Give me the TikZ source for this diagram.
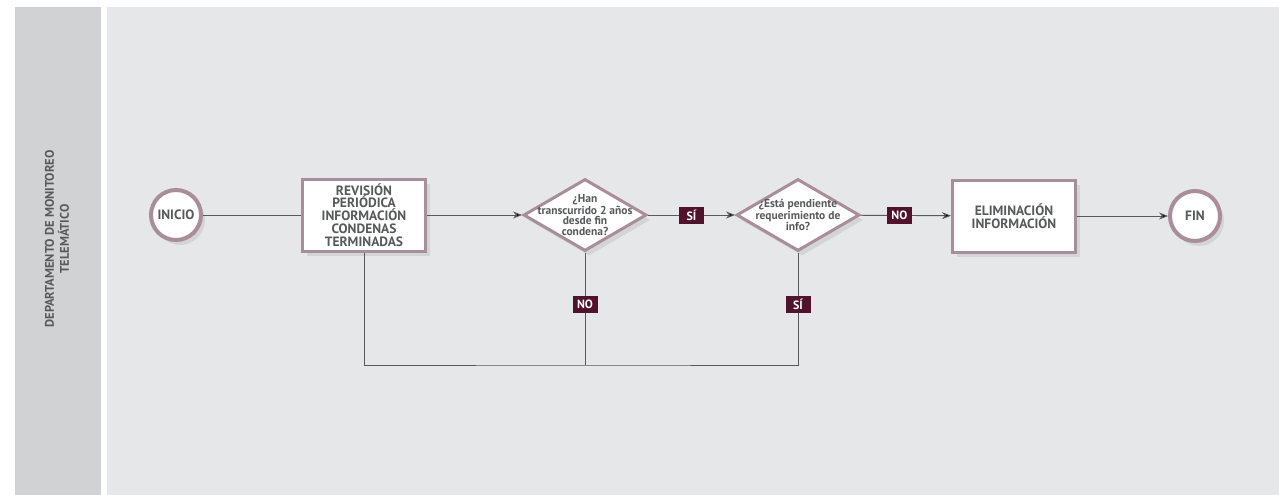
\documentclass[tikz,border=0pt]{standalone}
\usepackage{fontspec}
\setmainfont{PT Sans}
\usetikzlibrary{shapes.geometric,shadows,arrows.meta,positioning}
\definecolor{lanegray}{HTML}{D1D2D4}
\definecolor{poolgray}{HTML}{E6E7E8}
\definecolor{mauve}{HTML}{A98D99}
\definecolor{tagred}{HTML}{50132B}
\definecolor{txtgray}{HTML}{58595B}
\tikzset{
  shapeshadow/.style={drop shadow={opacity=0.18,shadow xshift=4pt,shadow yshift=-5pt}},
  flowbox/.style={draw=mauve,line width=3pt,fill=white,shapeshadow,minimum width=123pt,minimum height=72pt,align=center,text=txtgray,font=\bfseries\fontsize{13.5}{12.8}\selectfont},
  query/.style={diamond,draw=mauve,line width=3pt,fill=white,shapeshadow,minimum width=123pt,minimum height=72pt,inner sep=0pt},
  qtext/.style={align=center,text=txtgray,font=\bfseries\fontsize{11.5}{10.3}\selectfont},
  terminal/.style={circle,draw=mauve,line width=4pt,fill=white,shapeshadow,minimum size=50pt,inner sep=0pt,text=txtgray,font=\bfseries\fontsize{13.5}{14}\selectfont},
  tag/.style={fill=tagred,text=white,font=\bfseries\fontsize{12}{12}\selectfont,minimum width=25pt,minimum height=17pt,inner sep=2pt}
}
\begin{document}
\begin{tikzpicture}[x=1pt,y=-1pt]
\useasboundingbox (0,0) rectangle (1279,495);
\fill[white] (0,0) rectangle (1279,495);
\fill[lanegray] (15,7) rectangle (101,495);
\fill[poolgray] (107,7) rectangle (1279,495);
\node[rotate=90,align=center,text=txtgray,font=\bfseries\fontsize{12.5}{15}\selectfont] (lane) at (57,239) {DEPARTAMENTO DE MONITOREO\\TELEMÁTICO};

\node[terminal] (inicio) at (176,215) {INICIO};
\node[flowbox] (revision) at (364,215) {REVISIÓN\\PERIÓDICA\\INFORMACIÓN\\CONDENAS\\TERMINADAS};
\node[query,label={[qtext]center:{¿Han\\transcurrido 2 años\\desde fin\\condena?}}] (plazo) at (585,215) {};
\node[query,label={[qtext]center:{¿Está pendiente\\requerimiento de\\info?}}] (pendiente) at (798,215) {};
\node[flowbox] (elimina) at (1014,216) {ELIMINACIÓN\\INFORMACIÓN};
\node[terminal] (fin) at (1195,216) {FIN};
\coordinate (retorno) at (585,365);

\path[draw=txtgray,line width=0.9pt,-{Stealth[length=9pt,width=7pt]}]
(inicio) edge[-] (revision)
(revision) edge (plazo)
(plazo) edge node[tag] {SÍ} (pendiente)
(pendiente) edge node[tag,pos=0.43] {NO} (elimina)
(elimina) edge (fin);
\draw[txtgray,line width=0.9pt] (revision.south) |- (retorno) -| (pendiente.south);
\draw[txtgray,line width=0.9pt] (plazo.south) -- node[tag,pos=0.46] {NO} (retorno);
\path (pendiente.south) -- node[tag,pos=0.46] {SÍ} (pendiente.south |- retorno);
\end{tikzpicture}
\end{document}
